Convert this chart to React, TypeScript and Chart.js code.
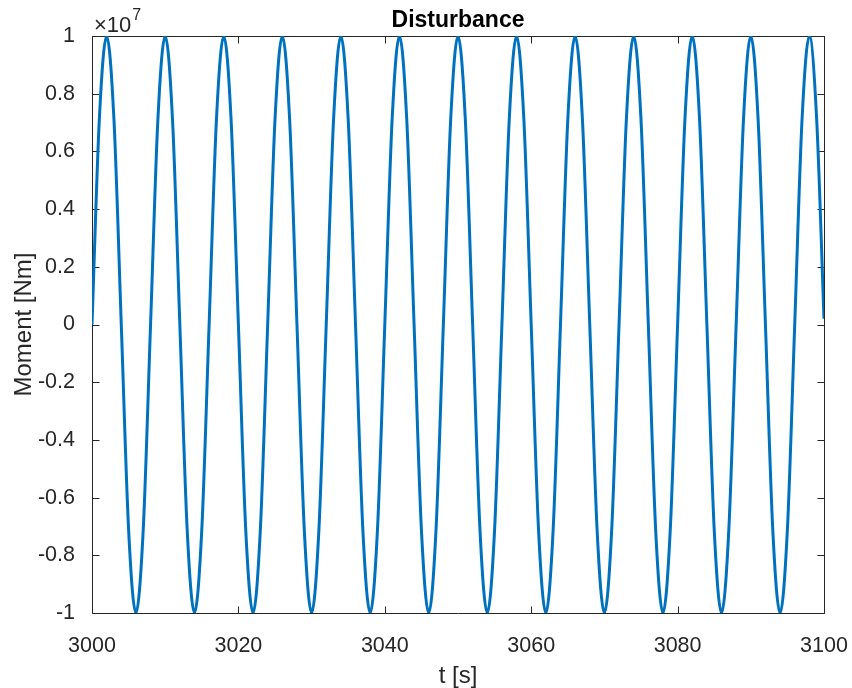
import { useEffect, useRef } from 'react';
import { Chart, registerables } from 'chart.js';

Chart.register(...registerables);

// ---- data (time in s, moment in units of 1e7 Nm) ----
const timeS = [
  3000, 3001, 3002, 3003, 3004, 3005, 3006, 3007, 3008, 3009,
  3010, 3011, 3012, 3013, 3014, 3015, 3016, 3017, 3018, 3019,
  3020, 3021, 3022, 3023, 3024, 3025, 3026, 3027, 3028, 3029,
  3030, 3031, 3032, 3033, 3034, 3035, 3036, 3037, 3038, 3039,
  3040, 3041, 3042, 3043, 3044, 3045, 3046, 3047, 3048, 3049,
  3050, 3051, 3052, 3053, 3054, 3055, 3056, 3057, 3058, 3059,
  3060, 3061, 3062, 3063, 3064, 3065, 3066, 3067, 3068, 3069,
  3070, 3071, 3072, 3073, 3074, 3075, 3076, 3077, 3078, 3079,
  3080, 3081, 3082, 3083, 3084, 3085, 3086, 3087, 3088, 3089,
  3090, 3091, 3092, 3093, 3094, 3095, 3096, 3097, 3098, 3099,
  3100,
];

const momentE7 = [
  0, 0.71, 1, 0.71, 0, -0.71, -1, -0.71,
  0, 0.71, 1, 0.71, 0, -0.71, -1, -0.71,
  0, 0.71, 1, 0.71, 0, -0.71, -1, -0.71,
  0, 0.71, 1, 0.71, 0, -0.71, -1, -0.71,
  0, 0.71, 1, 0.71, 0, -0.71, -1, -0.71,
  0, 0.71, 1, 0.71, 0, -0.71, -1, -0.71,
  0, 0.71, 1, 0.71, 0, -0.71, -1, -0.71,
  0, 0.71, 1, 0.71, 0, -0.71, -1, -0.71,
  0, 0.71, 1, 0.71, 0, -0.71, -1, -0.71,
  0, 0.71, 1, 0.71, 0, -0.71, -1, -0.71,
  0, 0.71, 1, 0.71, 0, -0.71, -1, -0.71,
  0, 0.71, 1, 0.71, 0, -0.71, -1, -0.71,
  0, 0.71, 1, 0.71, 0.02,
];

const xTickValues = [3000, 3020, 3040, 3060, 3080, 3100];
const yTickValues = [-1, -0.8, -0.6, -0.4, -0.2, 0, 0.2, 0.4, 0.6, 0.8, 1];

const titleText = 'Disturbance';
const xLabel = 't [s]';
const yLabel = 'Moment [Nm]';
const exponentBase = '\u00d710';
const exponentPower = '7';

const AXIS_COLOR = 'rgb(38,38,38)';
const LINE_COLOR = '#0072BD';
const FONT = "'Liberation Sans', Arial, Helvetica, sans-serif";

const matlabAxes = {
  id: 'matlabAxes',
  beforeDatasetsDraw(chart: any) {
    const { ctx, chartArea: a, scales } = chart;
    const L = Math.round(a.left) + 0.5;
    const R = Math.round(a.right) + 0.5;
    const T = Math.round(a.top) + 0.5;
    const B = Math.round(a.bottom) + 0.5;
    const tick = 7;
    ctx.save();
    ctx.strokeStyle = AXIS_COLOR;
    ctx.lineWidth = 1;
    ctx.beginPath();
    ctx.rect(L, T, R - L, B - T);
    for (const v of xTickValues) {
      const px = Math.round(scales.x.getPixelForValue(v)) + 0.5;
      ctx.moveTo(px, B);
      ctx.lineTo(px, B - tick);
      ctx.moveTo(px, T);
      ctx.lineTo(px, T + tick);
    }
    for (const v of yTickValues) {
      const py = Math.round(scales.y.getPixelForValue(v)) + 0.5;
      ctx.moveTo(L, py);
      ctx.lineTo(L + tick, py);
      ctx.moveTo(R, py);
      ctx.lineTo(R - tick, py);
    }
    ctx.stroke();
    ctx.restore();
  },
  afterDraw(chart: any) {
    const { ctx, chartArea: a } = chart;
    ctx.save();
    ctx.fillStyle = AXIS_COLOR;
    ctx.textBaseline = 'alphabetic';
    ctx.textAlign = 'left';
    ctx.font = `22px ${FONT}`;
    const x0 = a.left + 2;
    ctx.fillText(exponentBase, x0, a.top - 4);
    const w = ctx.measureText(exponentBase).width;
    ctx.font = `16px ${FONT}`;
    ctx.fillText(exponentPower, x0 + w + 1, a.top - 16);
    ctx.restore();
  },
};

export default function App() {
  const canvasRef = useRef<HTMLCanvasElement | null>(null);

  useEffect(() => {
    if (!canvasRef.current) return;
    const points = timeS.map((t, i) => ({ x: t, y: momentE7[i] }));
    const chart = new Chart(canvasRef.current, {
      type: 'line',
      data: {
        datasets: [
          {
            data: points,
            borderColor: LINE_COLOR,
            borderWidth: 3,
            pointRadius: 0,
            fill: false,
            cubicInterpolationMode: 'monotone',
          },
        ],
      },
      options: {
        animation: false,
        responsive: false,
        devicePixelRatio: 1,
        layout: { padding: { left: 0, right: 28, top: 0, bottom: 0 } },
        plugins: {
          legend: { display: false },
          tooltip: { enabled: false },
          title: {
            display: true,
            text: titleText,
            color: 'black',
            fullSize: false,
            font: { family: FONT, size: 23, weight: 'bold', lineHeight: 1 },
            padding: { top: 9, bottom: 4 },
          },
        },
        scales: {
          x: {
            type: 'linear',
            min: 3000,
            max: 3100,
            grid: { display: false },
            border: { display: false },
            afterBuildTicks: (s: any) => {
              s.ticks = xTickValues.map((v) => ({ value: v }));
            },
            afterFit: (s: any) => {
              s.height = 75;
              s.paddingLeft = 0;
              s.paddingRight = 0;
            },
            ticks: {
              color: AXIS_COLOR,
              padding: 12,
              maxRotation: 0,
              autoSkip: false,
              font: { family: FONT, size: 21.5 },
              callback: (v: any) => String(v),
            },
            title: {
              display: true,
              text: xLabel,
              color: AXIS_COLOR,
              font: { family: FONT, size: 24, lineHeight: 1 },
              padding: { top: 0, bottom: 0 },
            },
          },
          y: {
            type: 'linear',
            min: -1,
            max: 1,
            grid: { display: false },
            border: { display: false },
            afterBuildTicks: (s: any) => {
              s.ticks = yTickValues.map((v) => ({ value: v }));
            },
            afterFit: (s: any) => {
              s.width = 92;
              s.paddingTop = 0;
              s.paddingBottom = 0;
            },
            ticks: {
              color: AXIS_COLOR,
              padding: 9,
              autoSkip: false,
              font: { family: FONT, size: 21.5 },
              callback: (v: any) => String(Number(Number(v).toFixed(1))),
            },
            title: {
              display: true,
              text: yLabel,
              color: AXIS_COLOR,
              font: { family: FONT, size: 24, lineHeight: 1 },
              padding: { top: 12, bottom: 0 },
            },
          },
        },
      },
      plugins: [matlabAxes],
    });
    return () => chart.destroy();
  }, []);

  return (
    <div style={{ position: 'absolute', left: 0, top: 0, width: 852, height: 688, background: 'white' }}>
      <canvas ref={canvasRef} width={852} height={688} style={{ display: 'block' }} />
    </div>
  );
}
